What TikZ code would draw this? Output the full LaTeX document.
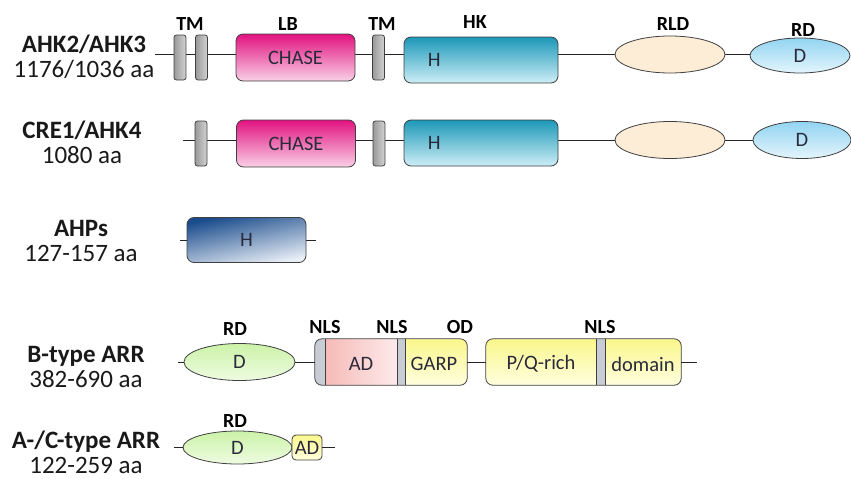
\documentclass[tikz,border=0pt]{standalone}
\usepackage{fontspec}
\setmainfont{Carlito}
\usetikzlibrary{shapes.geometric, positioning, calc, backgrounds}

\definecolor{chasetop}{RGB}{226,18,128}
\definecolor{chasebot}{RGB}{249,208,230}
\definecolor{hktop}{RGB}{28,152,184}
\definecolor{hkbot}{RGB}{205,238,246}
\definecolor{ahptop}{RGB}{26,76,140}
\definecolor{ahpbot}{RGB}{232,238,246}
\definecolor{rldfill}{RGB}{253,236,214}
\definecolor{rdtop}{RGB}{146,212,242}
\definecolor{rdbot}{RGB}{228,245,252}
\definecolor{rectop}{RGB}{204,243,168}
\definecolor{recbot}{RGB}{238,251,226}
\definecolor{adtop}{RGB}{246,186,184}
\definecolor{adbot}{RGB}{253,234,234}
\definecolor{garptop}{RGB}{250,247,140}
\definecolor{garpbot}{RGB}{255,254,222}
\definecolor{nlsgrey}{RGB}{200,204,212}
\definecolor{txtdark}{RGB}{42,42,58}

\tikzset{
  backbone/.style={black!85, line width=0.8pt},
  outl/.style={draw=black!75, line width=0.8pt},
  tmbar/.style={outl, rectangle, rounded corners=2.5pt, minimum width=12pt, minimum height=45pt, inner sep=0pt, left color=gray!80, right color=gray!35},
  dombox/.style={outl, rectangle, rounded corners=7pt, inner sep=0pt, font=\fontsize{20.5}{22}\selectfont, text=txtdark},
  chasebox/.style={dombox, minimum width=119pt, minimum height=47pt, top color=chasetop, bottom color=chasebot},
  hkbox/.style={dombox, minimum width=154pt, minimum height=46pt, top color=hktop, bottom color=hkbot},
  ahpbox/.style={dombox, minimum width=119pt, minimum height=45pt, top color=ahptop, bottom color=ahpbot, shading angle=12},
  rldell/.style={outl, ellipse, inner sep=0pt, minimum width=110pt, minimum height=37pt, fill=rldfill},
  rdell/.style={outl, ellipse, inner sep=0pt, minimum width=100pt, minimum height=35pt, top color=rdtop, bottom color=rdbot, font=\fontsize{20.5}{22}\selectfont, text=txtdark},
  recell/.style={rdell, top color=rectop, bottom color=recbot},
  smallad/.style={dombox, rounded corners=4pt, minimum width=30pt, minimum height=25pt, top color=garptop, bottom color=garpbot},
  intext/.style={font=\fontsize{20.5}{22}\selectfont, text=txtdark, inner sep=0pt},
  domlabel/.style={font=\bfseries\fontsize{20}{22}\selectfont, anchor=base, inner sep=0pt},
  rowlabel/.style={align=center, font=\fontsize{25}{25}\selectfont, text=black!90},
}

\begin{document}
\begin{tikzpicture}[x=1pt, y=-1pt]
\useasboundingbox (0,0) rectangle (851,479);

% AHK2/AHK3
\node[rowlabel] (lab1) at (84,57) {\textbf{AHK2/AHK3}\\1176/1036 aa};
\coordinate (s1) at (155,54);
\node[tmbar] (tm1) at (180,57.5) {};
\node[tmbar] (tm2) at (201.5,57.5) {};
\node[chasebox] (chase1) at (295.5,57.5) {CHASE};
\node[tmbar] (tm3) at (378.5,57.5) {};
\node[hkbox] (hk1) at (481,60) {};
\node[intext, right=24pt of hk1.west] {H};
\node[rldell] (rld1) at (670,54.5) {};
\node[rdell] (rd1) at (800,55.5) {D};
\begin{scope}[on background layer]
  \draw[backbone] (s1) -- (s1 -| rd1.center);
\end{scope}
\node[domlabel] at (190,30) {TM};
\node[domlabel] at (288,30) {LB};
\node[domlabel] at (382,30) {TM};
\node[domlabel] at (475,28) {HK};
\node[domlabel] at (673,30) {RLD};
\node[domlabel] at (803,36) {RD};

% CRE1/AHK4
\node[rowlabel] (lab2) at (82,142) {\textbf{CRE1/AHK4}\\1080 aa};
\coordinate (s2) at (183,140);
\node[tmbar] (tm4) at (201,143.5) {};
\node[chasebox] (chase2) at (296,143.5) {CHASE};
\node[tmbar] (tm5) at (379,143.5) {};
\node[hkbox] (hk2) at (481,143) {};
\node[intext, right=24pt of hk2.west] {H};
\node[rldell] (rld2) at (670,140) {};
\node[rdell, minimum width=98pt, minimum height=37pt] (rd2) at (802,140) {D};
\begin{scope}[on background layer]
  \draw[backbone] (s2) -- (s2 -| rd2.center);
\end{scope}

% AHPs
\node[rowlabel] (lab3) at (81,241) {\textbf{AHPs}\\127-157 aa};
\coordinate (s3) at (180,240);
\coordinate (e3) at (316,240);
\node[ahpbox] (ahp) at (246.5,240) {H};
\draw[backbone] (s3) -- (ahp.west);
\draw[backbone] (ahp.east) -- (e3);

% B-type ARR
\node[rowlabel] (lab4) at (86,367) {\textbf{B-type ARR}\\382-690 aa};
\coordinate (s4) at (178,362);
\coordinate (e4) at (697,362);
\node[recell, minimum width=111pt, minimum height=37pt] (recb) at (239.5,362) {D};
\node[inner sep=0pt, minimum width=152pt, minimum height=46pt] (arrb) at (391,362) {};
\node[inner sep=0pt, minimum width=195pt, minimum height=46pt] (pq) at (583.5,362) {};
\begin{scope}
  \clip[rounded corners=7pt] (arrb.north west) rectangle (arrb.south east);
  \fill[nlsgrey] (315,339) rectangle (325,385);
  \shade[left color=adtop, right color=adbot] (325,339) rectangle (397,385);
  \fill[nlsgrey] (397,339) rectangle (405,385);
  \shade[top color=garptop, bottom color=garpbot] (405,339) rectangle (467,385);
\end{scope}
\begin{scope}
  \clip[rounded corners=7pt] (pq.north west) rectangle (pq.south east);
  \shade[top color=garptop, bottom color=garpbot] (486,339) rectangle (596,385);
  \fill[nlsgrey] (596,339) rectangle (605,385);
  \shade[top color=garptop, bottom color=garpbot] (605,339) rectangle (681,385);
\end{scope}
\draw[outl, rounded corners=7pt] (arrb.north west) rectangle (arrb.south east);
\draw[outl, rounded corners=7pt] (pq.north west) rectangle (pq.south east);
\draw[outl] (325,339) -- (325,385) (397,339) -- (397,385) (405,339) -- (405,385);
\draw[outl] (596,339) -- (596,385) (605,339) -- (605,385);
\node[intext] (ad) at (361,364) {AD};
\node[intext] (garp) at (434,364) {GARP};
\node[intext] (pqrich) at (541,364) {P/Q-rich};
\node[intext] (dom) at (643,364) {domain};
\draw[backbone] (s4) -- (recb.west);
\draw[backbone] (recb.east) -- (arrb.west);
\draw[backbone] (arrb.east) -- (pq.west);
\draw[backbone] (pq.east) -- (e4);
\node[domlabel] at (235,335) {RD};
\node[domlabel] at (325,333) {NLS};
\node[domlabel] at (392,333) {NLS};
\node[domlabel] at (460,333) {OD};
\node[domlabel] at (600,333) {NLS};

% A-/C-type ARR
\node[rowlabel] (lab5) at (86,452) {\textbf{A-/C-type ARR}\\122-259 aa};
\coordinate (s5) at (174,447.5);
\coordinate (e5) at (335,447.5);
\node[recell, minimum width=109pt, minimum height=33pt] (reca) at (237.5,447.5) {D};
\node[smallad] (ada) at (307,447.5) {AD};
\draw[backbone] (s5) -- (reca.west);
\draw[backbone] (ada.east) -- (e5);
\node[domlabel] at (235,427) {RD};
\end{tikzpicture}
\end{document}
